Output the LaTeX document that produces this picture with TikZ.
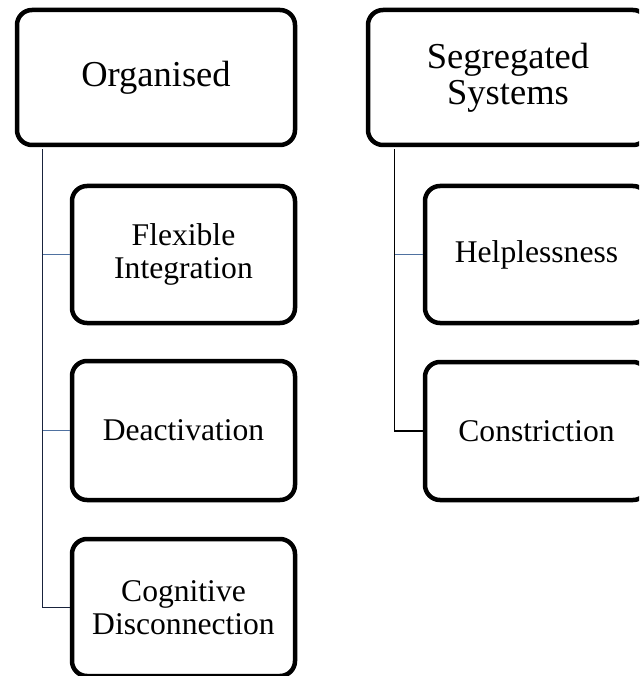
\documentclass[tikz,border=0pt]{standalone}
\usepackage{fontspec}
\setmainfont{Liberation Serif}
\usepackage{tikz}
\usetikzlibrary{positioning}
\definecolor{linkblue}{RGB}{79,113,160}
\definecolor{stemnavy}{RGB}{25,35,60}

\begin{document}
\begin{tikzpicture}[x=1pt,y=-1pt,
  box/.style={draw,line width=4.5pt,rounded corners=15pt,align=center,inner sep=0pt},
  headbox/.style={box,minimum height=135pt,font=\fontsize{36.5}{36}\selectfont},
  subbox/.style={box,minimum width=223pt,minimum height=137pt,
    font=\fontsize{31.6}{33}\selectfont},
  link/.style={linkblue,line width=1.4pt},
  stem/.style={stemnavy,line width=1.4pt}]
  \clip (0,0) rectangle (639,676);
  \fill[white] (0,0) rectangle (639,676);
  % left column
  \node[headbox,minimum width=278pt] (org) at (156,77.5) {Organised};
  \node[subbox] (flex) at (183.5,254.5) {Flexible\\Integration};
  \node[subbox,minimum height=139pt] (deact) at (183.5,430.5) {Deactivation};
  \node[subbox] (cogn) at (183.5,607.5) {Cognitive\\Disconnection};
  % right column
  \node[headbox,minimum width=280pt] (seg) at (508,77.5) {Segregated\\Systems};
  \node[subbox] (help) at (536.5,254.5) {Helplessness};
  \node[subbox,minimum height=138pt] (constr) at (536.5,431) {Constriction};
  % connectors
  \coordinate (orgstem) at ([xshift=28pt,yshift=-2.25pt]org.south west);
  \coordinate (segstem) at ([xshift=29pt,yshift=-2.25pt]seg.south west);
  \draw[stem] (orgstem) |- (cogn.west);
  \draw[link] (flex.west) -- (flex.west -| orgstem);
  \draw[link] (deact.west) -- (deact.west -| orgstem);
  \draw[stem,black] (segstem) |- (constr.west);
  \draw[link] (help.west) -- (help.west -| segstem);
\end{tikzpicture}
\end{document}
